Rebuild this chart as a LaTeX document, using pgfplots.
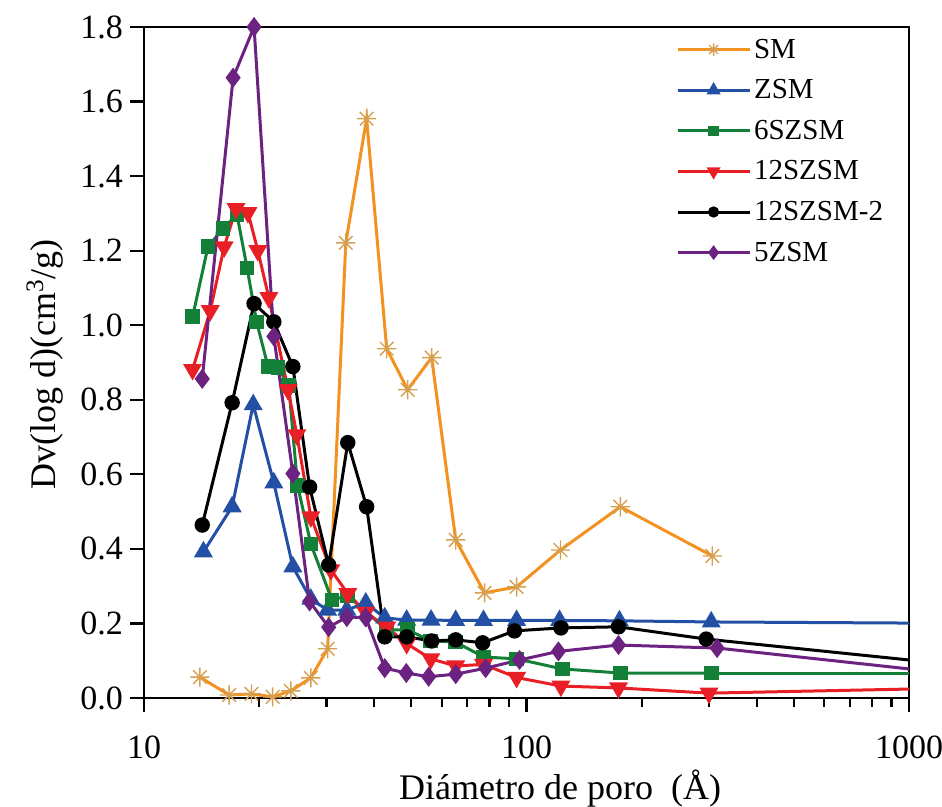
\documentclass[border=0pt]{standalone}
\usepackage{fontspec}
\setmainfont{Liberation Serif}
\usepackage{pgfplots}
\pgfplotsset{compat=1.18}

\definecolor{cSM}{RGB}{243,146,32}
\definecolor{cSMmark}{RGB}{214,160,80}
\definecolor{cZSM}{RGB}{35,80,165}
\definecolor{c6S}{RGB}{20,128,55}
\definecolor{c12S}{RGB}{232,32,38}
\definecolor{c12Stwo}{RGB}{0,0,0}
\definecolor{c5Z}{RGB}{108,34,128}

% eight-spoke star used for the SM series
\pgfdeclareplotmark{burst}{%
  \pgfpathmoveto{\pgfqpoint{-\pgfplotmarksize}{0pt}}\pgfpathlineto{\pgfqpoint{\pgfplotmarksize}{0pt}}%
  \pgfpathmoveto{\pgfqpoint{0pt}{-\pgfplotmarksize}}\pgfpathlineto{\pgfqpoint{0pt}{\pgfplotmarksize}}%
  \pgfpathmoveto{\pgfqpointpolar{45}{\pgfplotmarksize}}\pgfpathlineto{\pgfqpointpolar{225}{\pgfplotmarksize}}%
  \pgfpathmoveto{\pgfqpointpolar{135}{\pgfplotmarksize}}\pgfpathlineto{\pgfqpointpolar{315}{\pgfplotmarksize}}%
  \pgfusepathqstroke}

\begin{document}
\begin{tikzpicture}
\begin{axis}[
  at={(0,0)}, anchor=south west,
  scale only axis, width=382.5pt, height=335.5pt,
  xmode=log, xmin=10, xmax=1000, ymin=0, ymax=1.8,
  xtick={10,100,1000}, xticklabels={10,100,1000},
  ytick={0,0.2,0.4,0.6,0.8,1.0,1.2,1.4,1.6,1.8},
  yticklabel style={/pgf/number format/.cd, fixed, fixed zerofill, precision=1},
  xticklabel style={yshift=-8.5pt},
  /pgf/number format/assume math mode=true,
  tick label style={font=\fontsize{17}{20}\selectfont},
  tick align=outside, tick pos=left,
  major tick length=7pt, minor tick length=4.5pt,
  every tick/.style={black, line width=1.1pt},
  axis line style={line width=1.2pt},
  xlabel={Diámetro de poro\ \ (Å)},
  ylabel={Dv(log d)(cm\textsuperscript{3}/g)},
  label style={font=\fontsize{18}{21}\selectfont},
  xlabel style={at={(axis description cs:0.544,0)}, anchor=center, yshift=-45.5pt},
  ylabel style={at={(axis description cs:0,0.497)}, anchor=center, yshift=49.5pt},
  every axis plot/.append style={line width=1.5pt},
  legend cell align=left,
  legend style={draw=none, fill=none, at={(rel axis cs:0.695,0.99)}, anchor=north west,
    inner sep=0pt, row sep=4.8pt, font=\fontsize{14.5}{16}\selectfont,
    nodes={text height=10.5pt, text depth=2pt, inner sep=1.5pt},
    /tikz/every even column/.append style={column sep=1pt}},
  legend image code/.code={\draw[mark repeat=2, mark phase=2, every mark/.append style={scale=0.65}]
    plot coordinates {(0pt,0pt) (18pt,0pt) (36pt,0pt)};},
]
% SM
\addplot[cSM, mark=burst, mark size=4.8pt, mark options={draw=cSMmark, line width=0.7pt}]
coordinates {(14.0,0.056) (16.7,0.008) (19.1,0.011) (21.7,0.003) (24.2,0.019) (27.3,0.054)
 (30.2,0.132) (33.7,1.221) (38.2,1.554) (43.1,0.937) (48.9,0.827) (56.5,0.913) (65.3,0.424)
 (77.7,0.282) (94.2,0.298) (122.7,0.397) (175.9,0.513) (306,0.381)};
\addlegendentry{SM}
% ZSM
\addplot[cZSM, mark=triangle*, mark size=4pt, mark options={solid, fill=cZSM}]
coordinates {(14.3,0.392) (17.0,0.513) (19.3,0.787) (21.85,0.577) (24.5,0.352) (27.3,0.265)
 (30.2,0.236) (33.9,0.236) (38.0,0.255) (42.6,0.215) (48.6,0.209) (56.3,0.209) (65.3,0.208)
 (77.2,0.208) (94.2,0.208) (122,0.208) (175,0.207) (304,0.204)};
\addlegendentry{ZSM}
% 6SZSM
\addplot[c6S, mark=square*, mark size=2.9pt, mark options={fill=c6S}]
coordinates {(13.4,1.023) (14.7,1.211) (16.1,1.259) (17.5,1.297) (18.6,1.154) (19.7,1.009)
 (21.1,0.889) (22.4,0.886) (23.9,0.838) (25.2,0.570) (27.3,0.413) (31.0,0.263) (34.1,0.274)
 (43.1,0.183) (48.9,0.183) (56.2,0.153) (65.3,0.150) (77.2,0.110) (94.2,0.105) (124,0.078)
 (176,0.067) (304,0.067)};
\addlegendentry{6SZSM}
% 12SZSM
\addplot[c12S, mark=triangle*, mark size=4pt, mark options={rotate=180, fill=c12S}]
coordinates {(13.4,0.881) (14.9,1.039) (16.2,1.210) (17.4,1.313) (18.7,1.302) (19.85,1.200)
 (21.2,1.074) (23.8,0.827) (25.1,0.706) (27.3,0.486) (30.8,0.344) (34.1,0.280) (38.0,0.230)
 (43.1,0.190) (48.6,0.146) (56.2,0.105) (65.3,0.086) (77.2,0.090) (94.2,0.055) (123,0.032)
 (174,0.027) (300,0.013)};
\addlegendentry{12SZSM}
% 12SZSM-2
\addplot[c12Stwo, mark=*, mark size=3.1pt, mark options={fill=c12Stwo}]
coordinates {(14.2,0.464) (17.0,0.792) (19.4,1.058) (21.85,1.009) (24.5,0.889) (27.1,0.566)
 (30.4,0.357) (34.1,0.685) (38.2,0.513) (42.6,0.164) (48.6,0.164) (56.5,0.153) (65.3,0.156)
 (76.8,0.148) (93.0,0.180) (123,0.188) (174,0.191) (295,0.158)};
\addlegendentry{12SZSM-2}
% 5ZSM
\addplot[c5Z, mark=diamond*, mark size=3.8pt, mark options={fill=c5Z}]
coordinates {(14.2,0.856) (17.1,1.664) (19.4,1.800) (21.85,0.970) (24.5,0.602) (27.1,0.259)
 (30.4,0.190) (33.9,0.217) (38.0,0.216) (42.6,0.080) (48.5,0.067) (55.5,0.057) (65.3,0.064)
 (78.2,0.080) (95.9,0.102) (121.2,0.125) (174,0.142) (315,0.134)};
\addlegendentry{5ZSM}
% tails running on to the right edge
\addplot[cZSM, no marks, forget plot] coordinates {(304,0.204) (1000,0.201)};
\addplot[c6S, no marks, forget plot] coordinates {(304,0.067) (1000,0.067)};
\addplot[c12S, no marks, forget plot] coordinates {(300,0.013) (1000,0.024)};
\addplot[c12Stwo, no marks, forget plot] coordinates {(295,0.158) (1000,0.102)};
\addplot[c5Z, no marks, forget plot] coordinates {(315,0.134) (1000,0.078)};
\end{axis}
\pgfresetboundingbox
\path[use as bounding box] (-72pt,-54.5pt) rectangle (399pt,349pt);
\end{tikzpicture}
\end{document}
